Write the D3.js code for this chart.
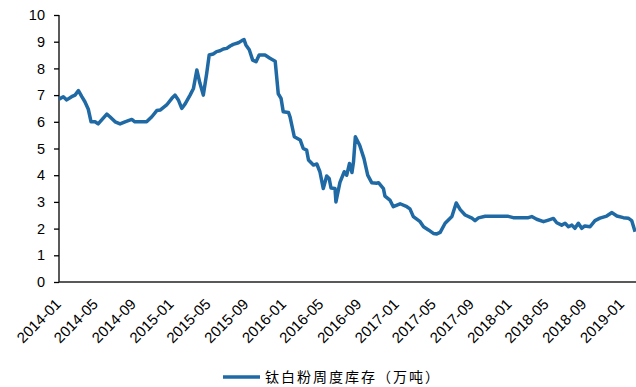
<!DOCTYPE html>
<html>
<head>
<meta charset="utf-8">
<script src="https://cdn.jsdelivr.net/npm/d3@7/dist/d3.min.js"></script>
<style>
  html, body { margin: 0; padding: 0; background: #fff; }
  svg { display: block; }
  .ytick text { font-family: "Liberation Sans", Arial, sans-serif; font-size: 14.5px; fill: #000; }
  .xlab { font-family: "Liberation Sans", Arial, sans-serif; font-size: 15px; fill: #000; }
  .legend text { font-family: "Noto Sans CJK SC", sans-serif; font-size: 14px; fill: #000; }
</style>
</head>
<body>
<svg id="chart" width="636" height="387"></svg>
<script>
// Weekly titanium dioxide inventory, 10k tonnes
const dates = [
  "2014-01-01","2014-01-15","2014-01-26","2014-02-11","2014-02-22","2014-03-05","2014-03-16","2014-03-26",
  "2014-04-06","2014-04-15","2014-04-28","2014-05-08","2014-06-05","2014-06-15","2014-07-02","2014-07-18",
  "2014-08-03","2014-08-25","2014-09-04","2014-10-12","2014-10-29","2014-11-14","2014-11-25","2014-12-16",
  "2015-01-02","2015-01-12","2015-01-23","2015-02-03","2015-02-14","2015-03-02","2015-03-13","2015-03-24",
  "2015-04-03","2015-04-14","2015-04-25","2015-05-03","2015-05-16","2015-05-27","2015-06-07","2015-06-18",
  "2015-06-29","2015-07-10","2015-07-20","2015-08-06","2015-08-17","2015-08-24","2015-08-30","2015-09-10",
  "2015-09-21","2015-10-02","2015-10-12","2015-10-31","2015-11-16","2015-12-03","2015-12-13","2015-12-22",
  "2015-12-29","2016-01-15","2016-01-20","2016-02-03","2016-02-22","2016-03-03","2016-03-14","2016-03-20",
  "2016-04-05","2016-04-16","2016-04-26","2016-05-07","2016-05-18","2016-05-26","2016-06-01","2016-06-14",
  "2016-06-17","2016-06-30","2016-07-14","2016-07-22","2016-07-31","2016-08-08","2016-08-13","2016-08-19",
  "2016-09-02","2016-09-16","2016-09-28","2016-10-11","2016-10-28","2016-11-02","2016-11-18","2016-11-23",
  "2016-12-09","2016-12-20","2017-01-11","2017-02-02","2017-02-12","2017-02-23","2017-03-17","2017-03-28",
  "2017-04-13","2017-04-29","2017-05-10","2017-05-21","2017-06-06","2017-06-28","2017-07-12","2017-07-25",
  "2017-08-10","2017-09-01","2017-09-11","2017-09-22","2017-10-14","2017-12-28","2018-01-13","2018-03-03",
  "2018-03-14","2018-03-30","2018-04-21","2018-05-07","2018-05-23","2018-06-03","2018-06-19","2018-06-30",
  "2018-07-11","2018-07-22","2018-08-01","2018-08-12","2018-08-23","2018-09-02","2018-09-19","2018-10-05",
  "2018-10-21","2018-11-12","2018-11-29","2018-12-15","2019-01-05","2019-01-21","2019-02-01","2019-02-12"
];
const inventory = [
  6.85,6.94,6.82,6.94,7.00,7.17,6.94,6.75,
  6.47,6.00,6.00,5.92,6.29,6.19,6.00,5.92,
  6.00,6.09,6.00,6.00,6.19,6.42,6.44,6.63,
  6.88,7.00,6.82,6.50,6.67,7.00,7.25,7.94,
  7.44,7.00,7.82,8.50,8.54,8.63,8.66,8.73,
  8.75,8.84,8.90,8.96,9.04,9.08,8.88,8.70,
  8.31,8.25,8.50,8.50,8.38,8.27,7.05,6.88,
  6.38,6.35,6.19,5.44,5.32,5.00,4.94,4.57,
  4.38,4.42,4.13,3.50,3.97,3.88,3.52,3.50,
  3.00,3.73,4.13,4.00,4.44,4.10,4.50,5.44,
  5.12,4.62,4.00,3.72,3.70,3.72,3.50,3.22,
  3.07,2.82,2.93,2.82,2.74,2.45,2.26,2.07,
  1.95,1.82,1.80,1.86,2.20,2.45,2.96,2.71,
  2.51,2.39,2.30,2.40,2.46,2.46,2.41,2.41,
  2.45,2.35,2.26,2.32,2.38,2.22,2.13,2.20,
  2.07,2.13,2.01,2.20,2.01,2.10,2.07,2.30,
  2.39,2.47,2.60,2.47,2.41,2.39,2.30,1.88
];
const xTickLabels = [
  "2014-01","2014-05","2014-09","2015-01","2015-05","2015-09","2016-01","2016-05",
  "2016-09","2017-01","2017-05","2017-09","2018-01","2018-05","2018-09","2019-01"
];
const yTicks = [0,1,2,3,4,5,6,7,8,9,10];
const seriesName = "钛白粉周度库存（万吨）";

const parseDay = d3.timeParse("%Y-%m-%d");
const parseMonth = d3.timeParse("%Y-%m");
const series = dates.map((d, i) => ({ date: parseDay(d), value: inventory[i] }));

const svg = d3.select("#chart");
const plotLeft = 59, plotRight = 636, plotTop = 15, plotBottom = 282;

const x = d3.scaleTime()
  .domain([parseDay("2014-01-01"), parseDay("2019-02-15")])
  .range([plotLeft, plotRight]);
const y = d3.scaleLinear().domain([0, 10]).range([plotBottom, plotTop]);

// y axis
const yAxis = svg.append("g")
  .attr("transform", `translate(${plotLeft},0)`)
  .call(d3.axisLeft(y).tickValues(yTicks).tickSize(5).tickPadding(9).tickFormat(d3.format("d")));
yAxis.select(".domain").remove();
yAxis.selectAll(".tick").attr("class", "ytick");
yAxis.selectAll(".ytick line").attr("stroke", "#000").attr("stroke-width", 1.3);
yAxis.attr("font-family", null).attr("font-size", null);
svg.append("line")
  .attr("x1", plotLeft).attr("x2", plotLeft)
  .attr("y1", y(10)).attr("y2", plotBottom)
  .attr("stroke", "#000").attr("stroke-width", 1.3);

// x axis line
svg.append("line")
  .attr("x1", plotLeft).attr("x2", plotRight)
  .attr("y1", plotBottom).attr("y2", plotBottom)
  .attr("stroke", "#222").attr("stroke-width", 1.6);

// rotated x labels
svg.append("g").selectAll("text")
  .data(xTickLabels)
  .join("text")
  .attr("class", "xlab")
  .attr("text-anchor", "end")
  .attr("transform", d => `translate(${x(parseMonth(d)) + 3},${plotBottom + 23}) rotate(-45)`)
  .text(d => d);

// series line
const line = d3.line().x(d => x(d.date)).y(d => y(d.value));
svg.append("path")
  .datum(series)
  .attr("fill", "none")
  .attr("stroke", "#1f69a4")
  .attr("stroke-width", 3.5)
  .attr("stroke-linejoin", "round")
  .attr("d", line);

// legend
const lg = svg.append("g").attr("class", "legend").attr("transform", "translate(223,377)");
lg.append("line").attr("x1", 0).attr("x2", 37).attr("y1", 0).attr("y2", 0)
  .attr("stroke", "#1f69a4").attr("stroke-width", 3.5);
lg.append("text").attr("x", 42).attr("y", 0).attr("dy", "0.35em")
  .attr("letter-spacing", "2px")
  .text(seriesName);
</script>
</body>
</html>
